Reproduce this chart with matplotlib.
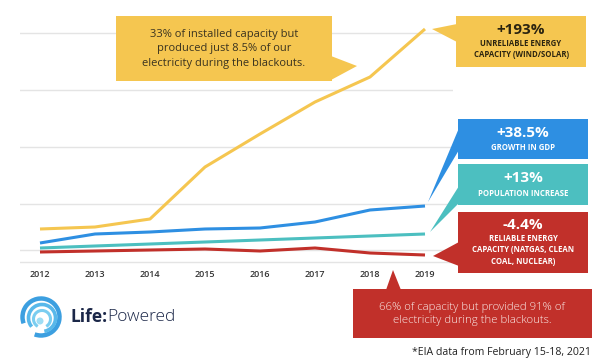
import matplotlib
matplotlib.use('Agg')
import matplotlib.pyplot as plt
from matplotlib.patches import Rectangle, Polygon, Arc, Circle

plt.rcParams['font.family'] = ['Open Sans', 'DejaVu Sans']

# values (chart units, 1 unit ~ 1 px above the baseline)
years = [2012, 2013, 2014, 2015, 2016, 2017, 2018, 2019]
unreliable = [33, 35, 43, 95, 128, 160, 185, 233]
gdp = [19, 28, 30, 33, 34, 40, 52, 56]
population = [14, 16, 18, 20, 22, 24, 26, 28]
reliable = [10, 11, 12, 13, 11, 14, 9, 7]
grid_levels = [0, 12, 58, 115, 172, 229]

YELLOW = '#F5C650'
BLUE = '#2E8FE2'
TEAL = '#4CBFC0'
RED = '#C1302A'

W, H = 600, 361
fig = plt.figure(figsize=(6, 3.61), dpi=100)
fig.patch.set_facecolor('white')

# data axes, placed in pixel terms
left, right, top, bottom = 20, 453, 20, 264
ax = fig.add_axes([left / W, (H - bottom) / H, (right - left) / W, (bottom - top) / H])
ax.set_xlim(2012 - 20 / 55.0, 2012 + 413 / 55.0)
ax.set_ylim(-2, 242)
ax.set_yticks(grid_levels)
ax.set_yticklabels([])
ax.grid(axis='y', color='#E4E4E4', lw=1.0)
ax.set_axisbelow(True)
for s in ax.spines.values():
    s.set_visible(False)
ax.set_xticks(years)
ax.set_xticklabels([str(y) for y in years], fontsize=6.5, color='#333333',
                   fontweight='semibold')
ax.tick_params(axis='both', length=0, pad=4)

series = [(unreliable, YELLOW), (gdp, BLUE), (population, TEAL), (reliable, RED)]
for vals, c in series:
    ax.plot(years, vals, color=c, lw=2.2, solid_capstyle='butt', zorder=3)

# overlay in pixel coordinates for callouts
ov = fig.add_axes([0, 0, 1, 1], zorder=5)
ov.set_xlim(0, W)
ov.set_ylim(H, 0)
ov.axis('off')
ov.patch.set_alpha(0)


def to_px(x, y):
    dx, dy = ax.transData.transform((x, y))
    return dx, H - dy


def box(x0, y0, x1, y1, color):
    ov.add_patch(Rectangle((x0, y0), x1 - x0, y1 - y0, color=color, lw=0))


def wedge(pts, color):
    ov.add_patch(Polygon(pts, closed=True, color=color, lw=0))


# left yellow note
box(116, 16, 332, 81, YELLOW)
wedge([(331, 56), (357, 66), (331, 80)], YELLOW)
ov.text(224, 49, '33% of installed capacity but\nproduced just 8.5% of our\nelectricity during the blackouts.',
        ha='center', va='center', fontsize=8, color='#3A3320', linespacing=1.45)

# right labels
tx, ty = to_px(years[-1], unreliable[-1])
box(456, 16, 586, 67, YELLOW)
wedge([(457, 24), (tx + 7, ty), (457, 42)], YELLOW)
ov.text(521, 30, '+193%', ha='center', va='center', fontsize=11, fontweight='bold', color='#2B2410')
ov.text(521, 49, 'UNRELIABLE ENERGY\nCAPACITY (WIND/SOLAR)', ha='center', va='center',
        fontsize=5.6, fontweight='bold', color='#2B2410', linespacing=1.3)

tx, ty = to_px(years[-1], gdp[-1])
box(458, 119, 588, 159, BLUE)
wedge([(459, 128), (tx + 3, ty - 4), (459, 150)], BLUE)
ov.text(523, 133, '+38.5%', ha='center', va='center', fontsize=11, fontweight='bold', color='white')
ov.text(523, 148, 'GROWTH IN GDP', ha='center', va='center', fontsize=5.6, fontweight='bold', color='white')

tx, ty = to_px(years[-1], population[-1])
box(458, 164, 588, 205, TEAL)
wedge([(459, 186), (tx + 5, ty - 2), (459, 203)], TEAL)
ov.text(523, 178, '+13%', ha='center', va='center', fontsize=11, fontweight='bold', color='white')
ov.text(523, 193, 'POPULATION INCREASE', ha='center', va='center', fontsize=5.6, fontweight='bold', color='white')

tx, ty = to_px(years[-1], reliable[-1])
box(458, 212, 588, 273, RED)
wedge([(459, 242), (tx + 8, ty + 1), (459, 266)], RED)
ov.text(523, 225, '-4.4%', ha='center', va='center', fontsize=11, fontweight='bold', color='white')
ov.text(523, 250, 'RELIABLE ENERGY\nCAPACITY (NATGAS, CLEAN\nCOAL, NUCLEAR)', ha='center', va='center',
        fontsize=5.6, fontweight='bold', color='white', linespacing=1.35)

# bottom red note
box(353, 289, 592, 338, RED)
wedge([(386, 290), (393, 270), (401, 290)], RED)
ov.text(472, 314, '66% of capacity but provided 91% of\nelectricity during the blackouts.',
        ha='center', va='center', fontsize=8.2, fontweight='light', color='#FBEDEA', linespacing=1.35)

# footnote
ov.text(591, 352, '*EIA data from February 15-18, 2021', ha='right', va='center',
        fontsize=7.6, color='#222222')

# logo
cx, cy = 41, 317
ov.add_patch(Arc((cx, cy), 37, 37, theta1=-200, theta2=110, lw=3.2, color='#3C9FE0'))
ov.add_patch(Arc((cx + 1, cy + 1), 27, 27, theta1=-220, theta2=80, lw=2.6, color='#58B8EA'))
ov.add_patch(Arc((cx + 1, cy + 2), 17, 17, theta1=-240, theta2=60, lw=2.2, color='#7ACDF0'))
ov.add_patch(Circle((cx - 1, cy + 4), 3.5, color='#9FDDF4', lw=0))
t1 = ov.text(70, 317, 'Life:', ha='left', va='center', fontsize=12.5, fontweight='bold', color='#1B2748')
fig.canvas.draw()
bb = t1.get_window_extent()
ov.text(70 + bb.width, 317, 'Powered', ha='left', va='center', fontsize=12.5,
        fontweight='light', color='#1B2748')

fig.savefig('out.png', dpi=100, facecolor='white')
